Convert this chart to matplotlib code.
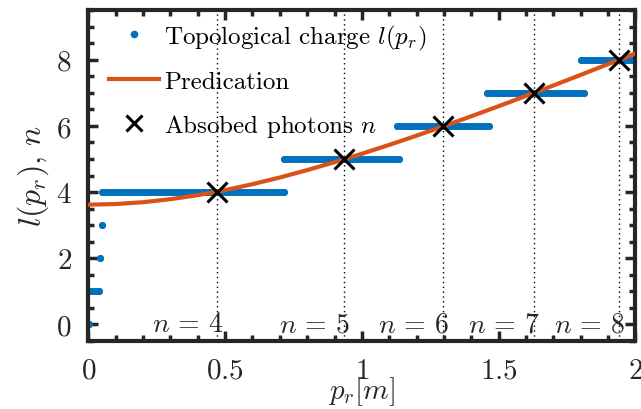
import numpy as np
import matplotlib
matplotlib.use('Agg')
import matplotlib.pyplot as plt
from matplotlib.lines import Line2D
from matplotlib.ticker import MultipleLocator

plt.rcParams['mathtext.fontset'] = 'cm'
plt.rcParams['font.family'] = 'serif'
plt.rcParams['font.serif'] = ['cmr10']
plt.rcParams['axes.formatter.use_mathtext'] = True

# topological charge l(p_r): step segments (start, end, value)
seg_start = [0.0, 0.0, 0.044, 0.050, 0.051, 0.717, 1.128, 1.456, 1.800]
seg_end = [0.003, 0.040, 0.044, 0.050, 0.717, 1.137, 1.466, 1.813, 2.000]
seg_l = [0, 1, 2, 3, 4, 5, 6, 7, 8]

# prediction curve
pred_p = [0.0, 0.1, 0.2, 0.3, 0.4, 0.5, 0.6, 0.7, 0.8, 0.9, 1.0,
          1.1, 1.2, 1.3, 1.4, 1.5, 1.6, 1.7, 1.8, 1.9, 2.0]
pred_n = [3.619, 3.638, 3.693, 3.784, 3.906, 4.059, 4.238, 4.440, 4.663, 4.903, 5.158,
          5.425, 5.704, 5.993, 6.290, 6.594, 6.904, 7.219, 7.539, 7.864, 8.191]

# absorbed photons
abs_p = [0.472, 0.936, 1.298, 1.631, 1.940]
abs_n = [4, 5, 6, 7, 8]

blue = '#0072BD'
orange = '#D95319'
dark = '#262626'

fig = plt.figure(figsize=(6.41, 4.10), dpi=100)
ax = fig.add_axes([0.138, 0.166, 0.853, 0.807])

for s, e, l in zip(seg_start, seg_end, seg_l):
    ax.plot([s, e], [l, l], color=blue, lw=5, solid_capstyle='round',
            marker='o', ms=5, mew=0, zorder=2)

ax.plot(pred_p, pred_n, color=orange, lw=3, zorder=3)
ax.plot(abs_p, abs_n, 'x', color='k', ms=15, mew=2.2, zorder=4)

for p, n in zip(abs_p, abs_n):
    ax.axvline(p, color='k', ls=(0, (1, 2.5)), lw=1, zorder=1)
    ax.text(p + 0.02, -0.2, r'$n\,=\,%d$' % n, ha='right', va='baseline',
            fontsize=20, color=dark, zorder=5)

handles = [
    Line2D([], [], ls='none', marker='o', ms=4.5, color=blue),
    Line2D([], [], color=orange, lw=3),
    Line2D([], [], ls='none', marker='x', ms=11, mew=2.2, color='k'),
]
labels = [r'Topological charge $l(p_r)$', 'Predication', r'Absobed photons $n$']
ax.legend(handles, labels, loc='upper left', frameon=False, fontsize=18,
          handlelength=2.0, handletextpad=0.2, labelspacing=0.75,
          borderaxespad=0.1, bbox_to_anchor=(0.015, 1.0))

ax.set_xlim(0, 2)
ax.set_ylim(-0.5, 9.5)
ax.set_xticks([0, 0.5, 1, 1.5, 2])
ax.set_xticklabels(['$0$', '$0.5$', '$1$', '$1.5$', '$2$'])
ax.set_yticks([0, 2, 4, 6, 8])
ax.set_yticklabels(['$0$', '$2$', '$4$', '$6$', '$8$'])
ax.xaxis.set_minor_locator(MultipleLocator(0.1))
ax.yaxis.set_minor_locator(MultipleLocator(0.5))
ax.tick_params(which='both', direction='in', top=True, right=True,
               color=dark, labelcolor=dark, labelsize=21)
ax.tick_params(which='major', length=7, width=2.5, pad=12)
ax.tick_params(which='minor', length=4, width=2.5)
for sp in ax.spines.values():
    sp.set_linewidth(3)
    sp.set_color(dark)

ax.set_xlabel(r'$p_r[m]$', fontsize=21, color=dark, labelpad=-7)
ax.set_ylabel(r'$l(p_r),\,n$', fontsize=23, color=dark, labelpad=4)

fig.savefig('out.png', dpi=100)
